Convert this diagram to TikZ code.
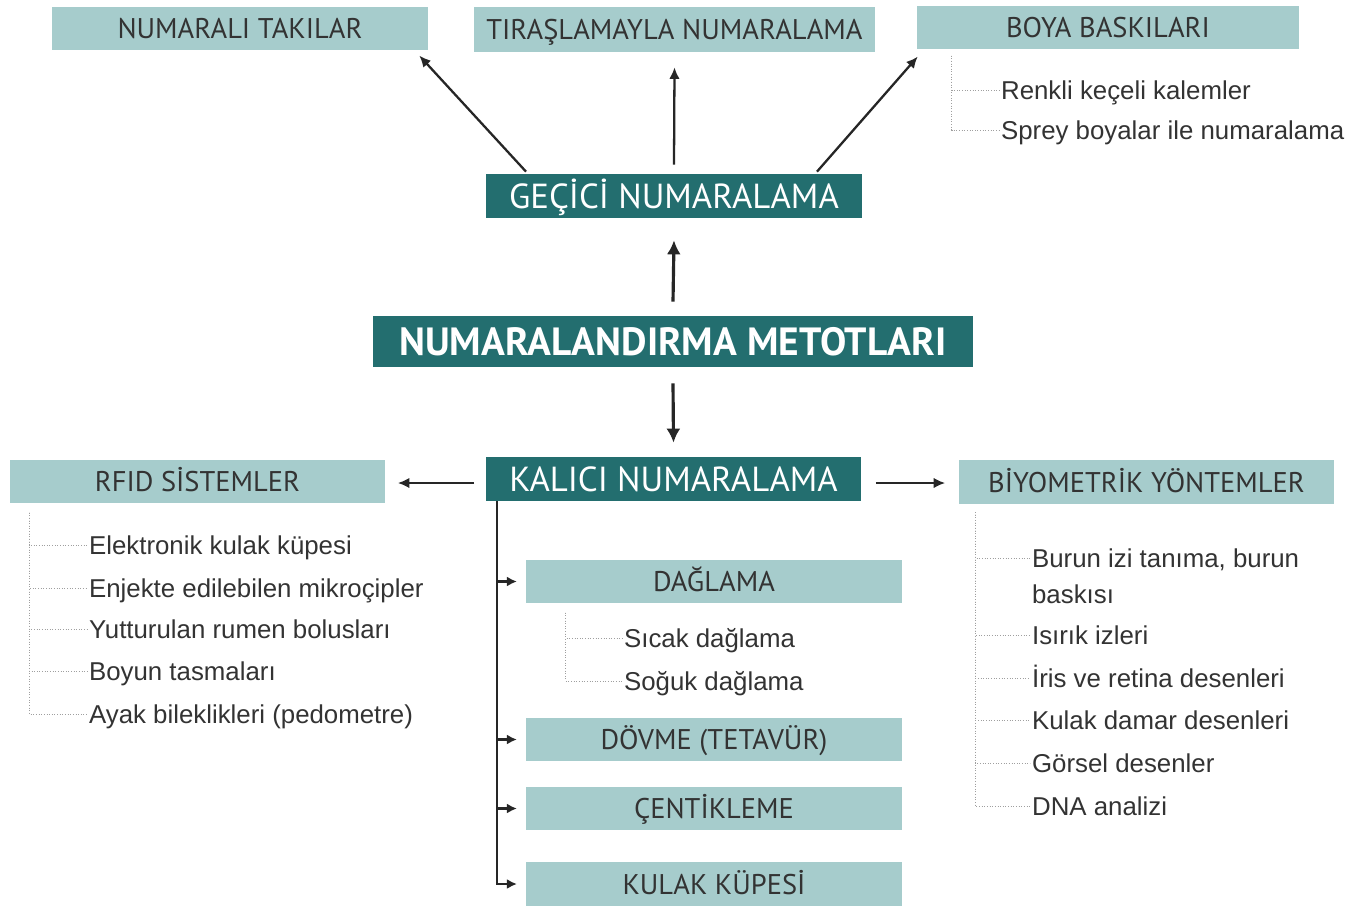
\documentclass[tikz,border=0pt]{standalone}
\usepackage{fontspec}
\setmainfont{Liberation Sans}
\newfontfamily\boxfont{PT Sans}
\usetikzlibrary{arrows.meta,positioning}
\definecolor{tealDark}{HTML}{236E6F}
\definecolor{tealLight}{HTML}{A6CCCC}
\definecolor{inkGray}{HTML}{333333}

\begin{document}
\begin{tikzpicture}[
  x=0.02cm, y=-0.02cm,
  catbox/.style={fill=tealLight,text=inkGray,minimum width=7.52cm,minimum height=0.87cm,inner sep=0pt,text height=11.4pt,text depth=0pt,font=\boxfont\fontsize{16.2}{18}\selectfont},
  mainbox/.style={fill=tealDark,text=white,minimum width=7.52cm,minimum height=0.88cm,inner sep=0pt,text height=13.9pt,text depth=0pt,font=\boxfont\fontsize{19.8}{22}\selectfont},
  item/.style={anchor=west,inner xsep=1pt,inner ysep=0pt,text=inkGray,text height=10.5pt,text depth=0pt,font=\fontsize{14.7}{20.5}\selectfont},
  tree/.style={draw=gray!75,densely dotted,line width=0.5pt},
  arrow/.style={-{Latex[length=2.3mm,width=2.1mm]},line width=1.3pt,draw=black!85},
  bigarrow/.style={-{Latex[length=2.8mm,width=2.8mm]},line width=1.8pt,draw=black!85},
  branch/.style={-{Latex[length=2mm,width=2mm]},line width=1.2pt,draw=black!85,shorten >=5pt}
]
\useasboundingbox[fill=white] (0,0) rectangle (1366,907);

% main blocks
\node[mainbox,font=\boxfont\bfseries\fontsize{22.4}{24}\selectfont,text height=15.7pt,minimum width=12cm,minimum height=1.02cm] (metot) at (673,341.5) {NUMARALANDIRMA METOTLARI};
\node[mainbox] (gecici) at (674,196) {GEÇİCİ NUMARALAMA};
\node[mainbox] (kalici) at (673.5,479) {KALICI NUMARALAMA};

% temporary methods
\node[catbox] (takilar) at (240,28.5) {NUMARALI TAKILAR};
\node[catbox,minimum width=8.02cm,minimum height=0.9cm] (tiras) at (674.5,29.5) {TIRAŞLAMAYLA NUMARALAMA};
\node[catbox,minimum width=7.64cm] (boya) at (1108,27.5) {BOYA BASKILARI};

% permanent methods
\node[catbox] (rfid) at (197.5,481.5) {RFID SİSTEMLER};
\node[catbox] (bio) at (1146.5,482) {BİYOMETRİK YÖNTEMLER};
\node[catbox] (dagla) at (714,581.5) {DAĞLAMA};
\node[catbox] (dovme) at (714,739.5) {DÖVME (TETAVÜR)};
\node[catbox] (centik) at (714,808.5) {ÇENTİKLEME};
\node[catbox] (kulak) at (714,884) {KULAK KÜPESİ};

% sub items
\node[item] (boya1) at (999,90) {Renkli keçeli kalemler};
\node[item] (boya2) at (999,130) {Sprey boyalar ile numaralama};
\node[item] (rfid1) at (87,545) {Elektronik kulak küpesi};
\node[item] (rfid2) at (87,588) {Enjekte edilebilen mikroçipler};
\node[item] (rfid3) at (87,629) {Yutturulan rumen bolusları};
\node[item] (rfid4) at (87,671) {Boyun tasmaları};
\node[item] (rfid5) at (87,714) {Ayak bileklikleri (pedometre)};
\node[item] (dag1) at (622,638) {Sıcak dağlama};
\node[item] (dag2) at (622,681) {Soğuk dağlama};
\node[item,align=left] (bio1) at (1030,594) {Burun izi tanıma, burun\\baskısı};
\node[item] (bio2) at (1030,635) {Isırık izleri};
\node[item] (bio3) at (1030,678) {İris ve retina desenleri};
\node[item] (bio4) at (1030,720) {Kulak damar desenleri};
\node[item] (bio5) at (1030,763) {Görsel desenler};
\node[item] (bio6) at (1030,806) {DNA analizi};

\coordinate (boyatop) at ([xshift=0.7cm,yshift=-0.12cm]boya.south west);
\coordinate (rfidtop) at ([xshift=0.4cm,yshift=-0.18cm]rfid.south west);
\coordinate (dagtop) at ([xshift=0.8cm,yshift=-0.18cm]dagla.south west);
\coordinate (biotop) at ([xshift=0.34cm,yshift=-0.16cm]bio.south west);
\coordinate (ktop) at ([xshift=0.24cm]kalici.south west);

% dotted trees
\draw[tree] (boyatop) |- (boya1.west);
\draw[tree] (boyatop) |- (boya2.west);
\draw[tree] (rfidtop) |- (rfid1.west);
\draw[tree] (rfidtop) |- (rfid2.west);
\draw[tree] (rfidtop) |- (rfid3.west);
\draw[tree] (rfidtop) |- (rfid4.west);
\draw[tree] (rfidtop) |- (rfid5.west);
\draw[tree] (dagtop) |- (dag1.west);
\draw[tree] (dagtop) |- (dag2.west);
\draw[tree] (biotop) |- ([yshift=20.5pt]bio1.west);
\draw[tree] (biotop) |- (bio2.west);
\draw[tree] (biotop) |- (bio3.west);
\draw[tree] (biotop) |- (bio4.west);
\draw[tree] (biotop) |- (bio5.west);
\draw[tree] (biotop) |- (bio6.west);

% arrows
\draw[bigarrow] ([yshift=0.28cm]metot.north) -- ([yshift=-0.44cm]gecici.south);
\draw[bigarrow] ([yshift=-0.32cm]metot.south) -- ([yshift=0.28cm]kalici.north);
\draw[arrow] ([xshift=-2.96cm,yshift=0.04cm]gecici.north) -- ([xshift=-0.18cm,yshift=-0.1cm]takilar.south east);
\draw[arrow] ([yshift=0.18cm]gecici.north) -- ([yshift=-0.3cm]tiras.south);
\draw[arrow] ([xshift=2.86cm,yshift=0.04cm]gecici.north) -- ([xshift=0.02cm,yshift=-0.14cm]boya.south west);
\draw[arrow] ([xshift=-0.22cm,yshift=-0.08cm]kalici.west) -- ([xshift=0.24cm,yshift=-0.08cm]kalici.west -| rfid.east);
\draw[arrow] ([xshift=0.28cm,yshift=-0.08cm]kalici.east) -- ([xshift=-0.26cm,yshift=-0.08cm]kalici.east -| bio.west);
\draw[branch] (ktop) |- (kulak.west);
\draw[branch] (ktop |- dagla.west) -- (dagla.west);
\draw[branch] (ktop |- dovme.west) -- (dovme.west);
\draw[branch] (ktop |- centik.west) -- (centik.west);
\end{tikzpicture}
\end{document}
